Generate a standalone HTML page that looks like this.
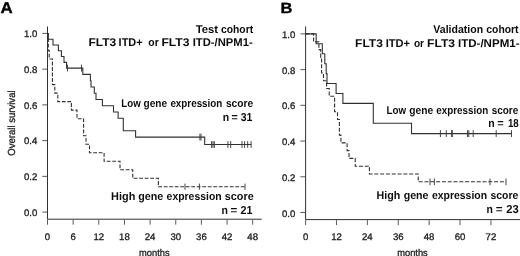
<!DOCTYPE html>
<html><head><meta charset="utf-8"><title>Figure</title>
<style>
html,body{margin:0;padding:0;background:#fff;}
svg{display:block;}
text{font-family:"Liberation Sans",Arial,Helvetica,sans-serif;fill:#1a1a1a;}
.ax{stroke:#303030;stroke-width:1;fill:none;}
.cv{stroke:#303030;stroke-width:1.08;fill:none;stroke-linejoin:miter;}
.ds{stroke:#303030;stroke-width:1.1;fill:none;stroke-dasharray:3.8 1.7;}
.tk{font-size:9.6px;fill:#1c1c1c;stroke:#1c1c1c;stroke-width:0.3;}
.mo{font-size:9.7px;fill:#1c1c1c;stroke:#1c1c1c;stroke-width:0.3;}
.lb{font-size:11.2px;font-weight:bold;fill:#0c0c0c;}
.ln{font-size:11.5px;font-weight:bold;fill:#0c0c0c;}
.pn{font-size:15.6px;font-weight:bold;fill:#000;stroke:#000;stroke-width:0.35;}
.tm{stroke:#5a5a5a;stroke-width:1;fill:none;}
.cm{stroke:#3c3c3c;stroke-width:0.95;fill:none;}
.dsb{stroke:#303030;stroke-width:1.1;fill:none;stroke-dasharray:4.0 1.8;}
</style></head><body>
<svg width="520" height="256" viewBox="0 0 520 256">
<rect width="520" height="256" fill="#fff"/>

<path class="ax" d="M47.5,26.5V219.2H261.7"/>
<path class="tm" d="M42.30,33.40H47.0M42.30,69.14H47.0M42.30,104.88H47.0M42.30,140.62H47.0M42.30,176.36H47.0M42.30,212.10H47.0M47.50,219.7V224.70M73.15,219.7V224.70M98.80,219.7V224.70M124.45,219.7V224.70M150.10,219.7V224.70M175.75,219.7V224.70M201.40,219.7V224.70M227.05,219.7V224.70M252.70,219.7V224.70"/>
<text class="tk" transform="skewX(0.06)" x="47.25" y="240.5" text-anchor="middle">0</text>
<text class="tk" transform="skewX(0.06)" x="72.90" y="240.5" text-anchor="middle">6</text>
<text class="tk" transform="skewX(0.06)" x="98.55" y="240.5" text-anchor="middle">12</text>
<text class="tk" transform="skewX(0.06)" x="124.20" y="240.5" text-anchor="middle">18</text>
<text class="tk" transform="skewX(0.06)" x="149.85" y="240.5" text-anchor="middle">24</text>
<text class="tk" transform="skewX(0.06)" x="175.50" y="240.5" text-anchor="middle">30</text>
<text class="tk" transform="skewX(0.06)" x="201.15" y="240.5" text-anchor="middle">36</text>
<text class="tk" transform="skewX(0.06)" x="226.80" y="240.5" text-anchor="middle">42</text>
<text class="tk" transform="skewX(0.06)" x="252.45" y="240.5" text-anchor="middle">48</text>
<text class="tk" transform="skewX(0.06)" x="37.26" y="37.5" text-anchor="end">1.0</text>
<text class="tk" transform="skewX(0.06)" x="37.22" y="73.16" text-anchor="end">0.8</text>
<text class="tk" transform="skewX(0.06)" x="37.19" y="108.82" text-anchor="end">0.6</text>
<text class="tk" transform="skewX(0.06)" x="37.15" y="144.48" text-anchor="end">0.4</text>
<text class="tk" transform="skewX(0.06)" x="37.11" y="180.14" text-anchor="end">0.2</text>
<text class="tk" transform="skewX(0.06)" x="37.07" y="215.8" text-anchor="end">0.0</text>
<path class="ax" d="M305.6,26.5V219.6H520"/>
<path class="tm" d="M300.40,33.90H305.1M300.40,69.62H305.1M300.40,105.34H305.1M300.40,141.06H305.1M300.40,176.78H305.1M300.40,212.50H305.1M305.60,220.1V225.10M336.48,220.1V225.10M367.37,220.1V225.10M398.25,220.1V225.10M429.13,220.1V225.10M460.02,220.1V225.10M490.90,220.1V225.10"/>
<text class="tk" transform="skewX(0.06)" x="305.35" y="240.5" text-anchor="middle">0</text>
<text class="tk" transform="skewX(0.06)" x="336.23" y="240.5" text-anchor="middle">12</text>
<text class="tk" transform="skewX(0.06)" x="367.12" y="240.5" text-anchor="middle">24</text>
<text class="tk" transform="skewX(0.06)" x="398.00" y="240.5" text-anchor="middle">36</text>
<text class="tk" transform="skewX(0.06)" x="428.88" y="240.5" text-anchor="middle">48</text>
<text class="tk" transform="skewX(0.06)" x="459.77" y="240.5" text-anchor="middle">60</text>
<text class="tk" transform="skewX(0.06)" x="490.65" y="240.5" text-anchor="middle">72</text>
<text class="tk" transform="skewX(0.06)" x="295.26" y="37.95" text-anchor="end">1.0</text>
<text class="tk" transform="skewX(0.06)" x="295.22" y="73.67" text-anchor="end">0.8</text>
<text class="tk" transform="skewX(0.06)" x="295.19" y="109.39" text-anchor="end">0.6</text>
<text class="tk" transform="skewX(0.06)" x="295.15" y="145.11" text-anchor="end">0.4</text>
<text class="tk" transform="skewX(0.06)" x="295.11" y="180.83" text-anchor="end">0.2</text>
<text class="tk" transform="skewX(0.06)" x="295.07" y="216.55" text-anchor="end">0.0</text>
<path class="cv" d="M47.50,33.50 L48.30,33.50 L48.30,39.27 L53.00,39.27 L53.00,45.04 L58.40,45.04 L58.40,50.81 L61.40,50.81 L61.40,56.58 L64.00,56.58 L64.00,62.35 L66.60,62.35 L66.60,68.13 L82.80,68.13 L82.80,74.40 L90.40,74.40 L90.40,80.67 L91.00,80.67 L91.00,86.94 L94.30,86.94 L94.30,93.21 L96.00,93.21 L96.00,99.48 L102.40,99.48 L102.40,105.75 L113.50,105.75 L113.50,112.02 L118.10,112.02 L118.10,118.29 L123.30,118.29 L123.30,130.83 L135.60,130.83 L135.60,137.10 L204.70,137.10 L204.70,144.50 L251.40,144.50 L251.40,144.50"/>
<path class="cm" d="M67.50,64.73V71.53M81.50,64.73V71.53M199.90,133.70V140.50M201.00,133.70V140.50M211.60,141.10V147.90M213.00,141.10V147.90M214.30,141.10V147.90M227.90,141.10V147.90M230.70,141.10V147.90M242.00,141.10V147.90M244.60,141.10V147.90M247.70,141.10V147.90M251.10,141.10V147.90"/>
<path class="ds" d="M47.50,33.50 L48.30,33.50 L48.30,50.54 L49.20,50.54 L49.20,59.06 L52.40,59.06 L52.40,84.61 L54.80,84.61 L54.80,93.13 L57.80,93.13 L57.80,101.65 L71.40,101.65 L71.40,110.17 L77.00,110.17 L77.00,118.69 L83.60,118.69 L83.60,135.73 L86.00,135.73 L86.00,144.25 L89.50,144.25 L89.50,152.77 L104.10,152.77 L104.10,161.29 L120.00,161.29 L120.00,169.80 L132.75,169.80 L132.75,178.32 L158.40,178.32 L158.40,186.70 L245.00,186.70 L245.00,186.70"/>
<path class="cm" d="M185.00,183.60V189.80M199.40,183.60V189.80M245.00,183.60V189.80"/>
<path class="cv" d="M305.60,33.90 L316.20,33.90 L316.20,43.83 L322.30,43.83 L322.30,53.76 L324.80,53.76 L324.80,63.68 L326.20,63.68 L326.20,73.61 L327.00,73.61 L327.00,83.54 L336.10,83.54 L336.10,93.47 L342.90,93.47 L342.90,103.39 L373.30,103.39 L373.30,123.25 L411.50,123.25 L411.50,133.60 L511.50,133.60 L511.50,133.60"/>
<path class="cm" d="M440.40,130.20V137.00M446.30,130.20V137.00M451.60,130.20V137.00M452.30,130.20V137.00M467.50,130.20V137.00M468.80,130.20V137.00M473.20,130.20V137.00M496.20,130.20V137.00M511.50,130.20V137.00"/>
<path class="dsb" d="M305.60,33.90 L313.60,33.90 L313.60,41.87 L318.90,41.87 L318.90,49.64 L320.70,49.64 L320.70,57.41 L321.60,57.41 L321.60,72.95 L323.50,72.95 L323.50,80.72 L326.60,80.72 L326.60,88.49 L329.25,88.49 L329.25,96.26 L334.60,96.26 L334.60,111.80 L337.50,111.80 L337.50,119.57 L339.40,119.57 L339.40,135.10 L340.90,135.10 L340.90,142.87 L347.10,142.87 L347.10,150.64 L349.00,150.64 L349.00,158.41 L355.25,158.41 L355.25,166.18 L369.40,166.18 L369.40,173.95 L418.20,173.95 L418.20,181.80 L506.00,181.80 L506.00,181.80"/>
<path class="cm" d="M430.00,178.50V185.10M434.40,178.50V185.10M490.00,178.50V185.10M506.00,178.50V185.10"/>
<text class="pn" transform="skewX(0.06)" x="0.39" y="13.1" text-anchor="start" textLength="12.2" lengthAdjust="spacingAndGlyphs">A</text>
<text class="pn" transform="skewX(0.06)" x="280.59" y="12.9" text-anchor="start" textLength="11.9" lengthAdjust="spacingAndGlyphs" style="font-size:14.8px">B</text>
<text class="mo" transform="skewX(0.06)" x="138.73" y="256.0" text-anchor="start" textLength="30.6" lengthAdjust="spacingAndGlyphs">months</text>
<text class="mo" transform="skewX(0.06)" x="396.93" y="256.0" text-anchor="start" textLength="30.6" lengthAdjust="spacingAndGlyphs">months</text>
<text class="tk" transform="skewX(0.06) translate(14.9,155.8) rotate(-90)" style="font-size:10.3px" textLength="65.4" lengthAdjust="spacingAndGlyphs">Overall survival</text>
<text class="lb" transform="skewX(0.06)" y="32.80"><tspan x="195.61" textLength="22.41" lengthAdjust="spacingAndGlyphs">Test</tspan> <tspan x="220.96" textLength="32.17" lengthAdjust="spacingAndGlyphs">cohort</tspan></text>
<text class="lb" transform="skewX(0.06)" y="46.40"><tspan x="88.36" textLength="27.91" lengthAdjust="spacingAndGlyphs">FLT3</tspan> <tspan x="118.56" textLength="24.02" lengthAdjust="spacingAndGlyphs">ITD+</tspan> <tspan x="148.30" textLength="10.41" lengthAdjust="spacingAndGlyphs">or</tspan> <tspan x="161.36" textLength="28.11" lengthAdjust="spacingAndGlyphs">FLT3</tspan> <tspan x="192.68" textLength="59.98" lengthAdjust="spacingAndGlyphs">ITD-/NPM1-</tspan></text>
<text class="lb" transform="skewX(0.06)" y="107.20"><tspan x="121.26" textLength="19.43" lengthAdjust="spacingAndGlyphs">Low</tspan> <tspan x="143.47" textLength="23.54" lengthAdjust="spacingAndGlyphs">gene</tspan> <tspan x="170.28" textLength="51.98" lengthAdjust="spacingAndGlyphs">expression</tspan> <tspan x="225.78" textLength="27.18" lengthAdjust="spacingAndGlyphs">score</tspan></text>
<text class="ln" transform="skewX(0.06)" y="120.70"><tspan x="222.55" textLength="6.43" lengthAdjust="spacingAndGlyphs">n</tspan> <tspan x="231.32" textLength="6.32" lengthAdjust="spacingAndGlyphs">=</tspan> <tspan x="240.61" textLength="11.74" lengthAdjust="spacingAndGlyphs">31</tspan></text>
<text class="lb" transform="skewX(0.06)" y="200.40"><tspan x="110.89" textLength="24.2" lengthAdjust="spacingAndGlyphs">High</tspan> <tspan x="138.07" textLength="25.05" lengthAdjust="spacingAndGlyphs">gene</tspan> <tspan x="166.38" textLength="55.08" lengthAdjust="spacingAndGlyphs">expression</tspan> <tspan x="224.57" textLength="28.93" lengthAdjust="spacingAndGlyphs">score</tspan></text>
<text class="ln" transform="skewX(0.06)" y="214.10"><tspan x="221.16" textLength="6.43" lengthAdjust="spacingAndGlyphs">n</tspan> <tspan x="230.16" textLength="6.8" lengthAdjust="spacingAndGlyphs">=</tspan> <tspan x="240.26" textLength="12.0" lengthAdjust="spacingAndGlyphs">21</tspan></text>
<text class="lb" transform="skewX(0.06)" y="33.20"><tspan x="433.31" textLength="49.82" lengthAdjust="spacingAndGlyphs">Validation</tspan> <tspan x="486.26" textLength="32.27" lengthAdjust="spacingAndGlyphs">cohort</tspan></text>
<text class="lb" transform="skewX(0.06)" y="46.60"><tspan x="355.06" textLength="27.81" lengthAdjust="spacingAndGlyphs">FLT3</tspan> <tspan x="385.66" textLength="24.32" lengthAdjust="spacingAndGlyphs">ITD+</tspan> <tspan x="413.86" textLength="10.14" lengthAdjust="spacingAndGlyphs">or</tspan> <tspan x="427.06" textLength="28.01" lengthAdjust="spacingAndGlyphs">FLT3</tspan> <tspan x="457.88" textLength="61.67" lengthAdjust="spacingAndGlyphs">ITD-/NPM1-</tspan></text>
<text class="lb" transform="skewX(0.06)" y="113.60"><tspan x="386.49" textLength="19.59" lengthAdjust="spacingAndGlyphs">Low</tspan> <tspan x="409.16" textLength="23.84" lengthAdjust="spacingAndGlyphs">gene</tspan> <tspan x="436.07" textLength="51.98" lengthAdjust="spacingAndGlyphs">expression</tspan> <tspan x="491.56" textLength="26.57" lengthAdjust="spacingAndGlyphs">score</tspan></text>
<text class="ln" transform="skewX(0.06)" y="127.10"><tspan x="488.15" textLength="6.43" lengthAdjust="spacingAndGlyphs">n</tspan> <tspan x="497.22" textLength="6.43" lengthAdjust="spacingAndGlyphs">=</tspan> <tspan x="507.83" textLength="10.73" lengthAdjust="spacingAndGlyphs">18</tspan></text>
<text class="ln" transform="skewX(0.06)" y="213.30"><tspan x="486.25" textLength="6.38" lengthAdjust="spacingAndGlyphs">n</tspan> <tspan x="495.46" textLength="6.8" lengthAdjust="spacingAndGlyphs">=</tspan> <tspan x="506.00" textLength="12.52" lengthAdjust="spacingAndGlyphs">23</tspan></text>
<text class="lb" transform="skewX(0.06)" y="199.50"><tspan x="376.40" textLength="23.74" lengthAdjust="spacingAndGlyphs">High</tspan> <tspan x="403.47" textLength="24.79" lengthAdjust="spacingAndGlyphs">gene</tspan> <tspan x="431.68" textLength="55.18" lengthAdjust="spacingAndGlyphs">expression</tspan> <tspan x="490.28" textLength="27.78" lengthAdjust="spacingAndGlyphs">score</tspan></text>
</svg></body></html>
